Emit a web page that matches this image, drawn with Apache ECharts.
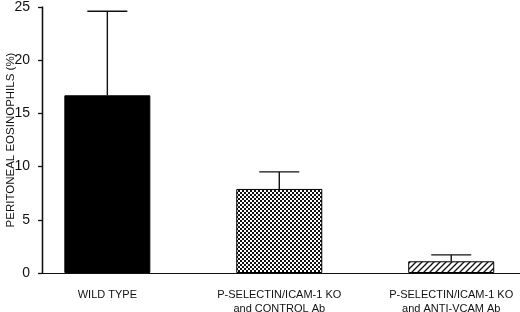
<!DOCTYPE html>
<html>
<head>
<meta charset="utf-8">
<script src="https://cdn.jsdelivr.net/npm/echarts@6/dist/echarts.min.js"></script>
<style>
  html, body { margin: 0; padding: 0; background: #fff; }
  #chart { width: 520px; height: 312px; }
</style>
</head>
<body>
<div id="chart"></div>
<script>
// data
var groups = ['WILD TYPE', 'P-SELECTIN/ICAM-1 KO\nand CONTROL Ab', 'P-SELECTIN/ICAM-1 KO\nand ANTI-VCAM Ab'];
var means = [16.7, 7.9, 1.1];
var errTops = [24.6, 9.5, 1.7];
var xMin = -0.38, xMax = 2.4;

function makePattern(kind) {
  var c = document.createElement('canvas');
  var ctx = c.getContext('2d');
  if (kind === 'check') {
    c.width = 4; c.height = 4;
    ctx.fillStyle = '#fff';
    ctx.fillRect(0, 0, 4, 4);
    ctx.fillStyle = '#111';
    ctx.fillRect(0, 0, 2, 2);
    ctx.fillRect(2, 2, 2, 2);
  } else {
    c.width = 6; c.height = 6;
    ctx.fillStyle = '#fff';
    ctx.fillRect(0, 0, 6, 6);
    ctx.strokeStyle = '#111';
    ctx.lineWidth = 1.3;
    ctx.beginPath();
    ctx.moveTo(-1, 7); ctx.lineTo(7, -1);
    ctx.moveTo(-1, 1); ctx.lineTo(1, -1);
    ctx.moveTo(5, 7); ctx.lineTo(7, 5);
    ctx.stroke();
  }
  return { image: c, repeat: 'repeat' };
}

var fills = ['#000', makePattern('check'), makePattern('hatch')];

var chart = echarts.init(document.getElementById('chart'));
chart.setOption({
  animation: false,
  grid: { left: 42, right: 0, top: 7, bottom: 39, outerBoundsMode: 'none' },
  xAxis: {
    type: 'value',
    min: xMin,
    max: xMax,
    splitLine: { show: false },
    axisLine: { show: true, onZero: false, lineStyle: { color: '#111', width: 1.2 } },
    axisTick: { show: false },
    axisLabel: {
      customValues: [0, 1, 2],
      formatter: function (v) { return groups[Math.round(v)]; },
      fontFamily: 'Liberation Sans',
      fontSize: 11,
      color: '#111',
      lineHeight: 14,
      margin: 15
    }
  },
  yAxis: {
    type: 'value',
    min: 0,
    max: 25,
    interval: 5,
    name: 'PERITONEAL EOSINOPHILS (%)',
    nameLocation: 'middle',
    nameRotate: 90,
    nameGap: 25,
    nameMoveOverlap: false,
    nameTextStyle: { fontFamily: 'Liberation Sans', fontSize: 11.5, color: '#111' },
    splitLine: { show: false },
    axisLine: { show: true, onZero: false, lineStyle: { color: '#111', width: 1.3 } },
    axisTick: { show: true, length: 4, lineStyle: { color: '#111', width: 1.3 } },
    axisLabel: {
      fontFamily: 'Liberation Sans',
      fontSize: 14,
      color: '#111',
      margin: 12
    }
  },
  series: [
    {
      type: 'bar',
      barWidth: 86,
      data: means.map(function (m, i) {
        return { value: [i, m], itemStyle: { color: fills[i] } };
      }),
      itemStyle: { borderColor: '#000', borderWidth: 1 },
      // vertical axis line at the left edge, in case the axis line is not drawn
      markLine: {
        silent: true,
        symbol: 'none',
        label: { show: false },
        lineStyle: { color: '#111', width: 1.3, type: 'solid' },
        data: [[{ coord: [xMin, 0] }, { coord: [xMin, 25] }]]
      }
    },
    {
      type: 'custom',
      data: means.map(function (m, i) { return [i, m, errTops[i]]; }),
      renderItem: function (params, api) {
        var lo = api.coord([api.value(0), api.value(1)]);
        var hi = api.coord([api.value(0), api.value(2)]);
        var half = 20;
        var st = { stroke: '#111', lineWidth: 1.4 };
        return {
          type: 'group',
          children: [
            { type: 'line', shape: { x1: lo[0], y1: lo[1], x2: hi[0], y2: hi[1] }, style: st },
            { type: 'line', shape: { x1: hi[0] - half, y1: hi[1], x2: hi[0] + half, y2: hi[1] }, style: st }
          ]
        };
      },
      z: 3
    }
  ]
});
</script>
</body>
</html>
